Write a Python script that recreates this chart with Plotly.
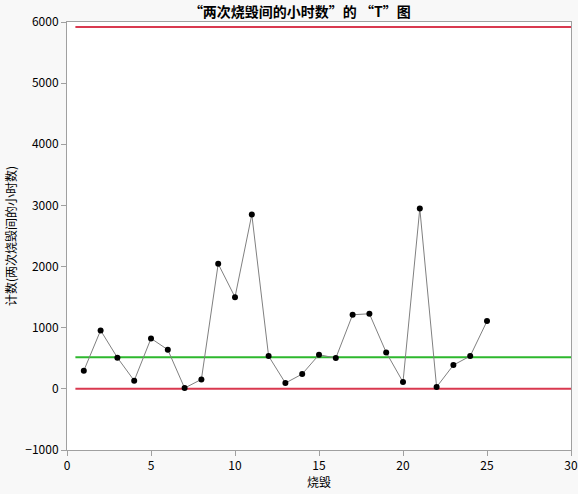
import plotly.graph_objects as go

# 数据：烧毁序号与两次烧毁间的小时数
burn = list(range(1, 26))
hours = [297, 956, 510, 134, 825, 640, 13, 155, 2045, 1500, 2851, 536, 95, 242,
         559, 503, 1212, 1228, 596, 111, 2949, 30, 389, 536, 1108]

# 控制限
ucl = 5918
center = 515
lcl = 0
limit_x = [0.5, 30]

fig = go.Figure()

fig.add_trace(go.Scatter(
    x=limit_x, y=[ucl, ucl], mode="lines",
    line=dict(color="#d9394f", width=2), hoverinfo="skip",
))
fig.add_trace(go.Scatter(
    x=limit_x, y=[lcl, lcl], mode="lines",
    line=dict(color="#d9394f", width=2), hoverinfo="skip",
))
fig.add_trace(go.Scatter(
    x=limit_x, y=[center, center], mode="lines",
    line=dict(color="#2eb82e", width=2), hoverinfo="skip",
))
fig.add_trace(go.Scatter(
    x=burn, y=hours, mode="lines+markers",
    line=dict(color="#808080", width=1),
    marker=dict(color="black", size=6),
))

font = "Noto Sans CJK SC, Noto Sans, sans-serif"
fig.update_layout(
    width=578, height=494,
    showlegend=False,
    paper_bgcolor="#f8f8f8",
    plot_bgcolor="white",
    margin=dict(l=67, r=7, t=22, b=44, autoexpand=False),
    font=dict(family=font, size=12, color="black"),
    title=dict(text="<b>“两次烧毁间的小时数”的 “T”图</b>",
               x=0.462, xref="paper", xanchor="center",
               y=0.985, yref="container", yanchor="top",
               font=dict(size=14)),
)
fig.update_xaxes(
    range=[0, 30], dtick=5, ticks="outside", ticklen=5,
    tickcolor="#a0a0a0", showline=True, linecolor="#a0a0a0", mirror=True,
    showgrid=False, zeroline=False, automargin=False,
    title=dict(text="烧毁", standoff=0, font=dict(size=12)),
)
fig.update_yaxes(
    range=[-1000, 6000], dtick=1000, ticks="outside", ticklen=5,
    tickcolor="#a0a0a0", showline=True, linecolor="#a0a0a0", mirror=True,
    showgrid=False, zeroline=False, automargin=False,
    title=dict(text="计数(两次烧毁间的小时数)", standoff=6, font=dict(size=12)),
)

# 去掉页面默认边距，让图从左上角开始
fig.write_html("out.html", config={"displayModeBar": False},
               post_script="document.body.style.margin='0';")
